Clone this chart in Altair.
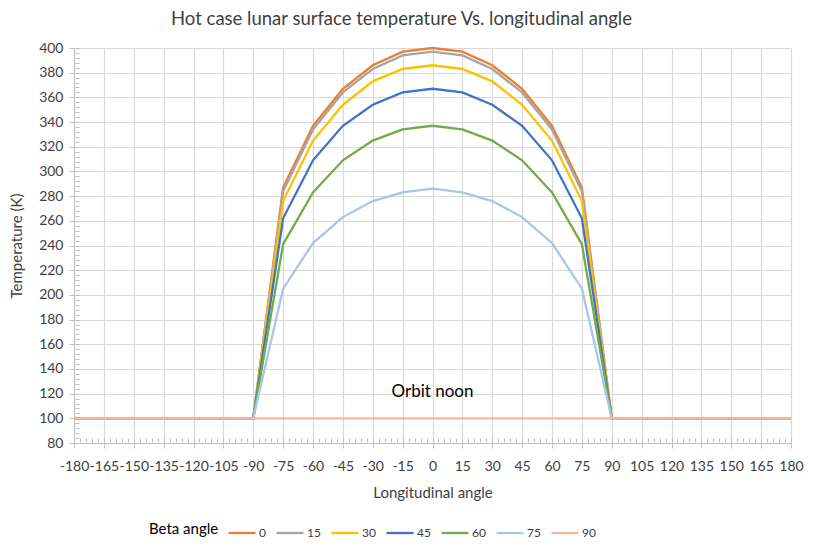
import altair as alt
import pandas as pd

angles = [-180, -165, -150, -135, -120, -105, -90, -75, -60, -45, -30, -15, 0,
          15, 30, 45, 60, 75, 90, 105, 120, 135, 150, 165, 180]
beta_labels = ["0", "15", "30", "45", "60", "75", "90"]
colors = ["#ED7D31", "#A5A5A5", "#FFC000", "#4472C4", "#70AD47", "#A9C6EA", "#F6B6A0"]

t_b0 = [100, 100, 100, 100, 100, 100, 100, 287, 337, 367, 386, 397, 400,
        397, 386, 367, 337, 287, 100, 100, 100, 100, 100, 100, 100]
t_b15 = [100, 100, 100, 100, 100, 100, 100, 284, 334, 364, 383, 394, 397,
         394, 383, 364, 334, 284, 100, 100, 100, 100, 100, 100, 100]
t_b30 = [100, 100, 100, 100, 100, 100, 100, 276, 325, 354, 373, 383, 386,
         383, 373, 354, 325, 276, 100, 100, 100, 100, 100, 100, 100]
t_b45 = [100, 100, 100, 100, 100, 100, 100, 262, 309, 337, 354, 364, 367,
         364, 354, 337, 309, 262, 100, 100, 100, 100, 100, 100, 100]
t_b60 = [100, 100, 100, 100, 100, 100, 100, 241, 283, 309, 325, 334, 337,
         334, 325, 309, 283, 241, 100, 100, 100, 100, 100, 100, 100]
t_b75 = [100, 100, 100, 100, 100, 100, 100, 205, 242, 263, 276, 283, 286,
         283, 276, 263, 242, 205, 100, 100, 100, 100, 100, 100, 100]
t_b90 = [100] * 25

series = [t_b0, t_b15, t_b30, t_b45, t_b60, t_b75, t_b90]

x_ticks = list(range(-180, 181, 15))
x_minor = list(range(-180, 181, 3))
y_ticks = list(range(80, 401, 20))
y_minor = list(range(80, 401, 4))

note_text = ["Orbit noon"]
note_x = [0]
note_y = [121]

rows = []
for i, (b, vals) in enumerate(zip(beta_labels, series)):
    for a, v in zip(angles, vals):
        rows.append({"angle": a, "temp": v, "beta": b, "ord": i})
df = pd.DataFrame(rows)
notes = pd.DataFrame({"label": note_text, "angle": note_x, "temp": note_y})

FONT = "Lato"
xscale = alt.Scale(domain=[-180, 180], nice=False)
yscale = alt.Scale(domain=[80, 400], nice=False)

lines = alt.Chart(df).mark_line(strokeWidth=2.3).encode(
    x=alt.X("angle:Q", scale=xscale, axis=alt.Axis(
        values=x_ticks, title="Longitudinal angle", labelAngle=0, labelOverlap=False,
        labelExpr="datum.value + ''",
        labelFlush=False, labelFont=FONT, labelFontSize=14, labelColor="#404040",
        titleFont=FONT, titleFontSize=15, titleColor="#404040", titleFontWeight="normal",
        titlePadding=12, grid=True, gridColor="#D9D9D9", gridWidth=1.2,
        domainColor="#BFBFBF", tickColor="#BFBFBF", tickSize=5, labelPadding=11)),
    y=alt.Y("temp:Q", scale=yscale, axis=alt.Axis(
        values=y_ticks, title="Temperature (K)", labelFont=FONT, labelFontSize=14,
        labelColor="#404040", titleFont=FONT, titleFontSize=15, titleColor="#404040",
        titleFontWeight="normal", titlePadding=14, grid=True, gridColor="#D9D9D9",
        gridWidth=1.2, domainColor="#BFBFBF", tickColor="#BFBFBF", tickSize=5,
        labelPadding=6)),
    color=alt.Color("beta:N", scale=alt.Scale(domain=beta_labels, range=colors),
                    sort=beta_labels,
                    legend=alt.Legend(title="Beta angle", orient="none", direction="horizontal",
                                      legendX=75, legendY=470, titleOrient="left",
                                      titleFont=FONT, titleFontSize=15, titleColor="#000000",
                                      titleFontWeight="normal", labelFont=FONT, labelFontSize=12,
                                      labelColor="#404040", symbolType="stroke",
                                      symbolStrokeWidth=2.3, symbolSize=729,
                                      columnPadding=5, labelOffset=2, titlePadding=8)),
    order=alt.Order("ord:Q"),
    detail="beta:N",
)

text = alt.Chart(notes).mark_text(font=FONT, fontSize=17, color="#000000").encode(
    x=alt.X("angle:Q", scale=xscale, axis=alt.Axis(
        values=x_minor, orient="bottom", labels=False, title=None, grid=False,
        domain=False, ticks=True, tickSize=4, offset=-5, tickColor="#BFBFBF")),
    y=alt.Y("temp:Q", scale=yscale, axis=alt.Axis(
        values=y_minor, orient="left", labels=False, title=None, grid=False,
        domain=False, ticks=True, tickSize=4, offset=-5, tickColor="#BFBFBF")),
    text="label:N",
)

chart = alt.layer(lines, text).resolve_axis(x="independent", y="independent").properties(
    width=717, height=395,
    padding={"left": 1, "top": 1, "right": 0, "bottom": 0},
    title=alt.TitleParams("Hot case lunar surface temperature Vs. longitudinal angle",
                          font=FONT, fontSize=18.5, fontWeight="normal", color="#404040",
                          anchor="middle", dx=-31, offset=13),
).configure_view(stroke=None)

chart.save("out.html", embed_options={"renderer": "svg", "actions": False})
